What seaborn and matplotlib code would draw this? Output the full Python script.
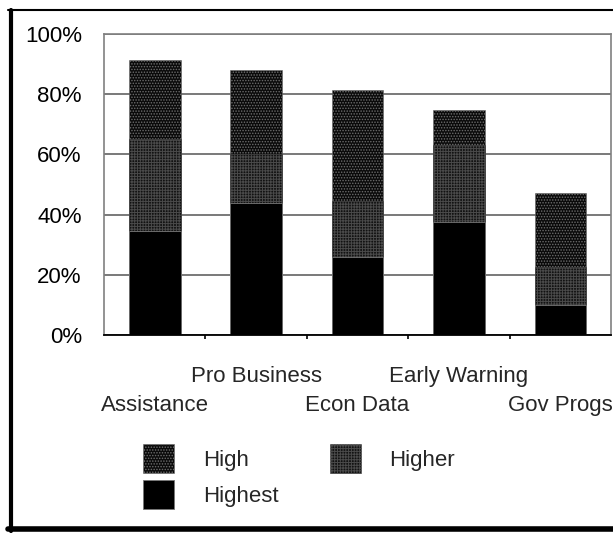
import matplotlib
matplotlib.use("Agg")
import matplotlib.pyplot as plt
import seaborn as sns
import pandas as pd
from matplotlib.patches import Patch
from matplotlib.lines import Line2D

# ---- data ----
categories = ["Assistance", "Pro Business", "Econ Data", "Early Warning", "Gov Progs"]
highest = [34.5, 44.0, 26.0, 37.7, 10.0]
higher = [30.5, 16.0, 18.6, 25.3, 12.7]
high = [26.4, 28.0, 36.8, 11.8, 24.4]
series_names = ["High", "Higher", "Highest"]
yticks = [0, 20, 40, 60, 80, 100]
ytick_labels = ["0%", "20%", "40%", "60%", "80%", "100%"]

# ---- styles ----
HIGH_FACE, HIGH_DOT = "#0a0a0a", "#6e6e6e"
HIGHER_FACE, HIGHER_LINE = "#121212", "#4a4a4a"
HIGHEST_FACE = "#000000"

sns.set_style("white")
plt.rcParams["font.family"] = ["Liberation Sans", "DejaVu Sans"]
plt.rcParams["hatch.linewidth"] = 0.7

df = pd.DataFrame({"category": categories, "highest": highest,
                   "higher": higher, "high": high})
df["lvl2"] = df["highest"] + df["higher"]
df["total"] = df["lvl2"] + df["high"]

fig = plt.figure(figsize=(6.13, 5.33), dpi=100)
ax = fig.add_axes([0.1697, 0.3715, 0.8273, 0.5645])

W = 0.51
sns.barplot(data=df, x="category", y="total", color=HIGH_FACE, saturation=1,
            width=W, ax=ax, edgecolor=HIGH_DOT, linewidth=0.4, hatch="......")
sns.barplot(data=df, x="category", y="lvl2", color=HIGHER_FACE, saturation=1,
            width=W, ax=ax, edgecolor=HIGHER_LINE, linewidth=0.4, hatch="++++++")
sns.barplot(data=df, x="category", y="highest", color=HIGHEST_FACE, saturation=1,
            width=W, ax=ax, edgecolor="#777777", linewidth=0.6)

ax.set_xlim(-0.5, len(categories) - 0.5)
ax.set_ylim(0, 100)
ax.set_xlabel("")
ax.set_ylabel("")
ax.set_axisbelow(True)
ax.yaxis.grid(True, color="#555555", linewidth=1.1)
ax.xaxis.grid(False)

ax.set_yticks(yticks, labels=ytick_labels)
ax.tick_params(axis="y", length=10, width=1, color="#555555", labelsize=16,
               pad=6, labelcolor="black")

for side in ["left", "top", "right"]:
    ax.spines[side].set_color("#808080")
    ax.spines[side].set_linewidth(1.2)
ax.spines["bottom"].set_color("black")
ax.spines["bottom"].set_linewidth(1.3)

# staggered category labels
even = list(range(0, len(categories), 2))
odd = list(range(1, len(categories), 2))
ax.set_xticks(even, labels=[categories[i] for i in even])
ax.set_xticks(odd, labels=[categories[i] for i in odd], minor=True)
ax.tick_params(axis="x", which="major", length=32, width=1, color="#333333",
               labelsize=16, pad=11)
ax.tick_params(axis="x", which="minor", length=12, width=1, color="#333333",
               labelsize=16, pad=10)
sec = ax.secondary_xaxis("bottom")
sec.set_xticks([i + 0.5 for i in range(len(categories) - 1)], labels=[])
sec.tick_params(axis="x", length=3, width=1.2, color="black")
sec.spines["bottom"].set_visible(False)

# legend
handles = [
    Patch(facecolor=HIGH_FACE, edgecolor=HIGH_DOT, hatch="......", linewidth=0.4),
    Patch(facecolor=HIGHEST_FACE, edgecolor="#777777", linewidth=0.6),
    Patch(facecolor=HIGHER_FACE, edgecolor=HIGHER_LINE, hatch="++++++", linewidth=0.4),
]
labels = [series_names[0], series_names[2], series_names[1]]
fig.legend(handles, labels, loc="upper left", bbox_to_anchor=(0.233, 0.167),
           ncol=2, frameon=False, fontsize=16, handlelength=1.4,
           handleheight=1.65, handletextpad=1.3, columnspacing=2.3,
           labelspacing=0.3, borderpad=0, borderaxespad=0)

# outer frame
fig.add_artist(Line2D([0.013, 1.0], [0.982, 0.982], transform=fig.transFigure,
                      color="black", linewidth=1.5))
fig.add_artist(Line2D([0.018, 0.018], [0.982, 0.004], transform=fig.transFigure,
                      color="black", linewidth=3.0))
fig.add_artist(Line2D([0.013, 1.0], [0.0066, 0.0066], transform=fig.transFigure,
                      color="black", linewidth=4.0))

fig.savefig("out.png", dpi=100, facecolor="white")
